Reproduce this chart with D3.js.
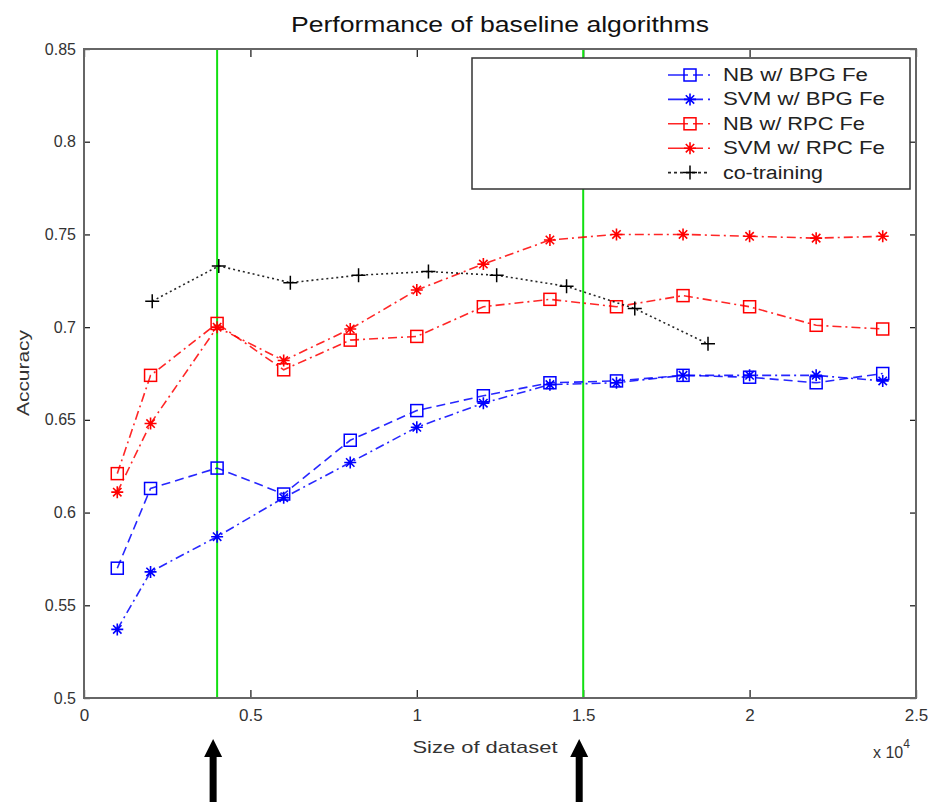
<!DOCTYPE html>
<html>
<head>
<meta charset="utf-8">
<script src="https://cdn.jsdelivr.net/npm/d3@7"></script>
<style>
  html, body { margin: 0; padding: 0; background: #fff; }
  svg { display: block; font-family: "Liberation Sans", Arial, sans-serif; }
</style>
</head>
<body>
<svg id="chart" width="928" height="802"></svg>
<script>
// ---- Data (x in units of 10^4) ----
const xMain   = [0.1, 0.2, 0.4, 0.6, 0.8, 1.0, 1.2, 1.4, 1.6, 1.8, 2.0, 2.2, 2.4];
const nbBPG   = [0.570, 0.613, 0.624, 0.610, 0.639, 0.655, 0.663, 0.670, 0.671, 0.674, 0.673, 0.670, 0.675];
const svmBPG  = [0.537, 0.568, 0.587, 0.608, 0.627, 0.646, 0.659, 0.669, 0.670, 0.674, 0.674, 0.674, 0.671];
const nbRPC   = [0.621, 0.674, 0.702, 0.677, 0.693, 0.695, 0.711, 0.715, 0.711, 0.717, 0.711, 0.701, 0.699];
const svmRPC  = [0.611, 0.648, 0.700, 0.682, 0.699, 0.720, 0.734, 0.747, 0.750, 0.750, 0.749, 0.748, 0.749];
const coX     = [0.205, 0.405, 0.62, 0.825, 1.035, 1.24, 1.45, 1.655, 1.875];
const coTrain = [0.714, 0.733, 0.724, 0.728, 0.730, 0.728, 0.722, 0.710, 0.691];
const xTicks  = [0, 0.5, 1, 1.5, 2, 2.5];
const xTickLabels = ["0", "0.5", "1", "1.5", "2", "2.5"];
const yTicks  = [0.5, 0.55, 0.6, 0.65, 0.7, 0.75, 0.8, 0.85];
const yTickLabels = ["0.5", "0.55", "0.6", "0.65", "0.7", "0.75", "0.8", "0.85"];
const markerLines = [0.4, 1.5];
const arrowX  = [0.388, 1.488];
const seriesNames = ["NB w/ BPG Fe", "SVM w/ BPG Fe", "NB w/ RPC Fe", "SVM w/ RPC Fe", "co-training"];
const title = "Performance of baseline algorithms";

// ---- Layout ----
const L = 84, R = 916, T = 49, B = 698;
const svg = d3.select("#chart");
const x = d3.scaleLinear().domain([0, 2.5]).range([L, R]);
const y = d3.scaleLinear().domain([0.5, 0.85]).range([B, T]);

const series = [
  { name: seriesNames[0], xs: xMain, ys: nbBPG,  color: "#0000ff", dash: "9,5",     marker: "square" },
  { name: seriesNames[1], xs: xMain, ys: svmBPG, color: "#0000ff", dash: "9,4,2,4", marker: "star" },
  { name: seriesNames[2], xs: xMain, ys: nbRPC,  color: "#ff0000", dash: "9,4,2,4", marker: "square" },
  { name: seriesNames[3], xs: xMain, ys: svmRPC, color: "#ff0000", dash: "9,4,2,4", marker: "star" },
  { name: seriesNames[4], xs: coX,   ys: coTrain, color: "#000000", dash: "2,3",    marker: "plus" }
];

// Title
svg.append("text").attr("x", (L + R) / 2).attr("y", 32).attr("text-anchor", "middle")
  .attr("font-size", 22).attr("fill", "#111")
  .attr("textLength", 418).attr("lengthAdjust", "spacingAndGlyphs").text(title);

// Axes (ticks inward)
const axColor = "#666";
const gx = svg.append("g").attr("transform", `translate(0,${B})`)
  .call(d3.axisBottom(x).tickValues(xTicks).tickSize(-8).tickFormat((d, i) => xTickLabels[i]));
const gxTop = svg.append("g").attr("transform", `translate(0,${T})`)
  .call(d3.axisTop(x).tickValues(xTicks).tickSize(-8).tickFormat(""));
const gy = svg.append("g").attr("transform", `translate(${L},0)`)
  .call(d3.axisLeft(y).tickValues(yTicks).tickSize(-6).tickFormat((d, i) => yTickLabels[i]));
const gyR = svg.append("g").attr("transform", `translate(${R},0)`)
  .call(d3.axisRight(y).tickValues(yTicks).tickSize(-6).tickFormat(""));
[gx, gxTop, gy, gyR].forEach(g => {
  g.select(".domain").remove();
  g.selectAll(".tick line").attr("stroke", "#222").attr("stroke-width", 1.3);
});
gx.selectAll(".tick text").attr("font-size", 17).attr("fill", "#333").attr("dy", "1.2em")
  .attr("font-family", "'Liberation Sans', Arial, sans-serif");
gy.selectAll(".tick text").attr("font-size", 16).attr("fill", "#333").attr("x", -8)
  .attr("font-family", "'Liberation Sans', Arial, sans-serif");

// Plot box
svg.append("rect").attr("x", L).attr("y", T).attr("width", R - L).attr("height", B - T)
  .attr("fill", "none").attr("stroke", axColor).attr("stroke-width", 2);

// Green vertical lines
svg.selectAll(".vline").data(markerLines).join("line").attr("class", "vline")
  .attr("x1", d => x(d)).attr("x2", d => x(d)).attr("y1", T + 1).attr("y2", B - 1)
  .attr("stroke", "#11e011").attr("stroke-width", 2);

// Axis labels
svg.append("text").attr("x", 485).attr("y", 753).attr("text-anchor", "middle")
  .attr("font-size", 17).attr("fill", "#333")
  .attr("textLength", 145).attr("lengthAdjust", "spacingAndGlyphs").text("Size of dataset");
svg.append("text").attr("transform", "translate(29,373) rotate(-90)").attr("text-anchor", "middle")
  .attr("font-size", 17).attr("fill", "#333")
  .attr("textLength", 86).attr("lengthAdjust", "spacingAndGlyphs").text("Accuracy");
const pw = svg.append("text").attr("x", 873).attr("y", 758).attr("font-size", 16).attr("fill", "#333");
pw.append("tspan").text("x 10");
pw.append("tspan").attr("dy", -10).attr("font-size", 12).text("4");

// Markers
function drawMarker(g, type, cx, cy, color) {
  if (type === "square") {
    g.append("rect").attr("x", cx - 6).attr("y", cy - 6).attr("width", 12).attr("height", 12)
      .attr("fill", "none").attr("stroke", color).attr("stroke-width", 1.5);
  } else if (type === "star") {
    const s = 6, d = 4.2;
    g.append("path").attr("d", `M${cx - s},${cy}H${cx + s}M${cx},${cy - s}V${cy + s}M${cx - d},${cy - d}L${cx + d},${cy + d}M${cx - d},${cy + d}L${cx + d},${cy - d}`)
      .attr("stroke", color).attr("stroke-width", 1.6).attr("fill", "none");
  } else if (type === "plus") {
    const s = 7;
    g.append("path").attr("d", `M${cx - s},${cy}H${cx + s}M${cx},${cy - s}V${cy + s}`)
      .attr("stroke", color).attr("stroke-width", 1.5).attr("fill", "none");
  }
}

const line = d3.line().x(d => x(d[0])).y(d => y(d[1]));
const plot = svg.append("g");
series.forEach(s => {
  const pts = s.xs.map((xv, i) => [xv, s.ys[i]]);
  plot.append("path").datum(pts).attr("d", line).attr("fill", "none")
    .attr("stroke", s.color).attr("stroke-width", 1.6).attr("stroke-dasharray", s.dash)
    .attr("opacity", 0.85);
  const mg = plot.append("g");
  pts.forEach(p => drawMarker(mg, s.marker, x(p[0]), y(p[1]), s.color));
});

// Legend
const lg = svg.append("g");
lg.append("rect").attr("x", 472).attr("y", 58).attr("width", 438).attr("height", 131)
  .attr("fill", "#fff").attr("stroke", "#333").attr("stroke-width", 1.5);
const legendWidths = [145, 162, 142, 162, 100];
series.forEach((s, i) => {
  const yy = 75 + i * 24.4;
  lg.append("line").attr("x1", 668).attr("x2", 710).attr("y1", yy).attr("y2", yy)
    .attr("stroke", s.color).attr("stroke-width", 1.6).attr("stroke-dasharray", s.dash === "2,3" ? "3,3" : "20,5,10,5")
    .attr("opacity", 0.85);
  drawMarker(lg, s.marker, 690, yy, s.color);
  lg.append("text").attr("x", 723).attr("y", yy + 6).attr("font-size", 18).attr("fill", "#222")
    .attr("textLength", legendWidths[i]).attr("lengthAdjust", "spacingAndGlyphs").text(s.name);
});

// Arrows below the axis
const ag = svg.append("g");
arrowX.forEach(a => {
  const cx = x(a), tip = 739;
  ag.append("rect").attr("x", cx - 3.5).attr("y", tip + 16).attr("width", 7).attr("height", 802 - tip - 16).attr("fill", "#000");
  ag.append("path").attr("d", `M${cx},${tip}L${cx + 9},${tip + 18}L${cx - 9},${tip + 18}Z`).attr("fill", "#000");
});
</script>
</body>
</html>
